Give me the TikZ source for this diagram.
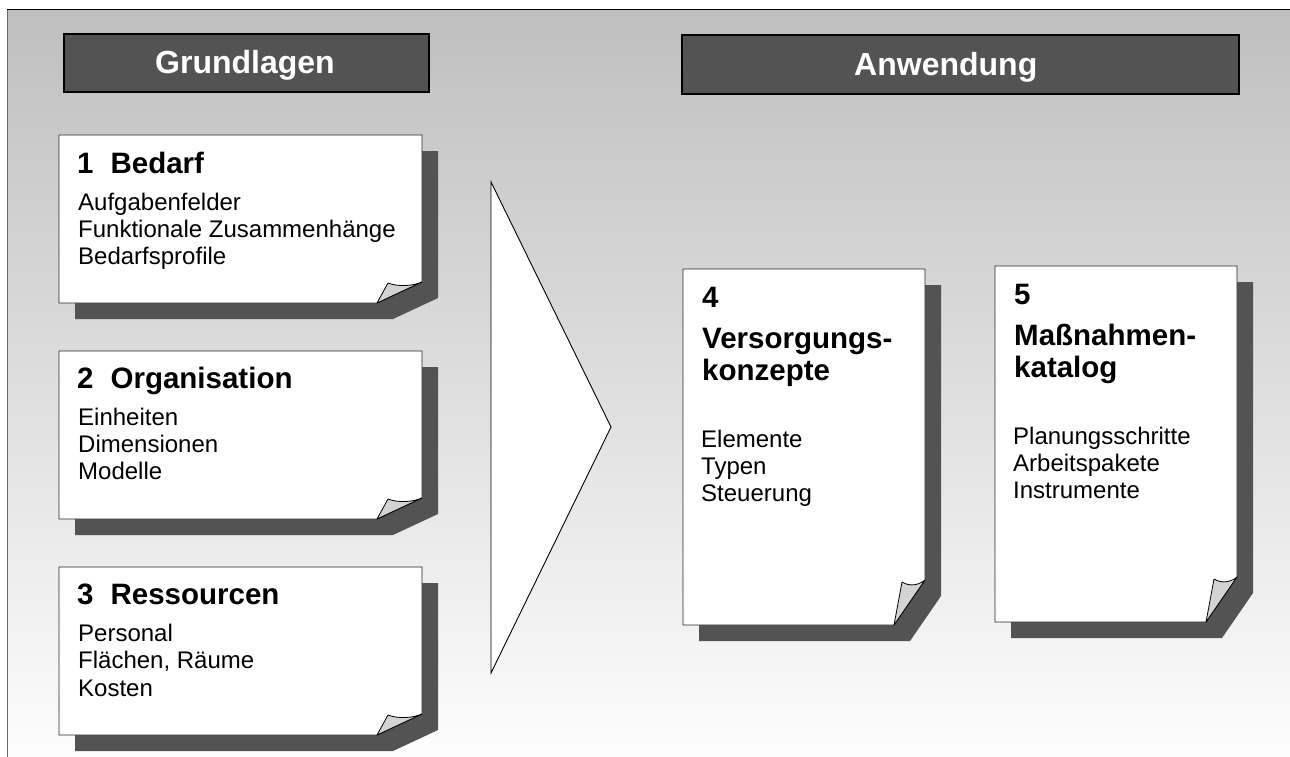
\documentclass[tikz,border=0pt]{standalone}
\usepackage{fontspec}
\setmainfont{Liberation Sans}
\definecolor{bgtop}{HTML}{BFBFBF}
\definecolor{bgbot}{HTML}{FDFDFD}
\definecolor{darkfill}{HTML}{535353}
\definecolor{curlfill}{HTML}{D3D3D3}
\definecolor{framegray}{HTML}{6A6A6A}
\newcommand\mkpageL[4]{% L T R B
  \fill[shadowfill] ({#1+16},{#2+16}) -- ({#3+16},{#2+16}) -- ({#3+16},{#4-5}) -- ({#3-29},{#4+16}) -- ({#1+16},{#4+16}) -- cycle;
  \filldraw[paper] (#1,#2) -- (#3,#2) -- (#3,{#4-21}) -- ({#3-45},#4) -- (#1,#4) -- cycle;
  \filldraw[curl] ({#3-45},#4) -- ({#3-34},{#4-20}) .. controls ({#3-24},{#4-16}) and ({#3-9},{#4-17}) .. (#3,{#4-21}) -- cycle;
}
\newcommand\mkpageR[4]{% L T R B
  \fill[shadowfill] ({#1+16},{#2+16}) -- ({#3+16},{#2+16}) -- ({#3+16},{#4-29}) -- ({#3-15},{#4+16}) -- ({#1+16},{#4+16}) -- cycle;
  \filldraw[paper] (#1,#2) -- (#3,#2) -- (#3,{#4-45}) -- ({#3-31},#4) -- (#1,#4) -- cycle;
  \filldraw[curl] ({#3-31},#4) -- ({#3-23},{#4-43}) .. controls ({#3-15},{#4-38}) and ({#3-6},{#4-40}) .. (#3,{#4-45}) -- cycle;
}
\begin{document}
\begin{tikzpicture}[x=1pt,y=-1pt,
  shadowfill/.style={fill=darkfill},
  paper/.style={fill=white, draw=black!85, line width=0.9pt, line join=miter},
  curl/.style={fill=curlfill, draw=black, line width=0.8pt, line join=round},
  header/.style={draw=black, line width=2pt, fill=darkfill, inner sep=0pt, anchor=north west},
  headtext/.style={text=white, font=\fontsize{32}{38}\selectfont\bfseries, anchor=base west, inner sep=0pt},
  title/.style={font=\fontsize{29.5}{34}\selectfont\bfseries, anchor=base west, inner sep=0pt},
  body/.style={font=\fontsize{24}{28}\selectfont, anchor=base west, inner sep=0pt}]
\useasboundingbox (0,0) rectangle (1290,757);
% background
\shade[top color=bgtop, bottom color=bgbot] (7,10) rectangle (1290,757);
\draw[framegray, line width=1pt] (7,757) -- (7,10);
\draw[black, line width=1pt] (7,10) -- (1290,10);
% headers
\node[header, minimum width=365pt, minimum height=58pt] (hg) at (63,33) {};
\node[headtext] (hgt) at (155,74) {Grundlagen};
\node[header, minimum width=557pt, minimum height=59pt] (ha) at (681,34) {};
\node[headtext] (hat) at (854,76) {Anwendung};
% big arrow
\draw[fill=white, draw=black, line width=0.9pt, line join=miter] (491,182) -- (611,427) -- (491,673) -- cycle;
% left pages
\mkpageL{59}{135}{422}{303}
\mkpageL{59}{351}{422}{519}
\mkpageL{59}{567}{422}{735}
% right pages
\mkpageR{683}{269}{925}{625}
\mkpageR{995}{266}{1237}{622}
% texts box 1
\node[title] (t1) at (77,173) {1\hspace{17pt}Bedarf};
\node[body] (t1a) at (78,210) {Aufgabenfelder};
\node[body] (t1b) at (78,237) {Funktionale Zusammenhänge};
\node[body] (t1c) at (78,264) {Bedarfsprofile};
% box 2
\node[title] (t2) at (77,388) {2\hspace{17pt}Organisation};
\node[body] (t2a) at (78,425) {Einheiten};
\node[body] (t2b) at (78,452) {Dimensionen};
\node[body] (t2c) at (78,479) {Modelle};
% box 3
\node[title] (t3) at (77,604) {3\hspace{17pt}Ressourcen};
\node[body] (t3a) at (78,641) {Personal};
\node[body] (t3b) at (78,668) {Flächen, Räume};
\node[body] (t3c) at (78,696) {Kosten};
% box 4
\node[title] (t4) at (702,307) {4};
\node[title] (t4x) at (702,348) {Versorgungs-};
\node[title] (t4y) at (702,380) {konzepte};
\node[body] (t4a) at (701,447) {Elemente};
\node[body] (t4b) at (701,474) {Typen};
\node[body] (t4c) at (701,501) {Steuerung};
% box 5
\node[title] (t5) at (1014,304) {5};
\node[title] (t5x) at (1014,345) {Maßnahmen-};
\node[title] (t5y) at (1014,377) {katalog};
\node[body] (t5a) at (1013,444) {Planungsschritte};
\node[body] (t5b) at (1013,471) {Arbeitspakete};
\node[body] (t5c) at (1013,498) {Instrumente};
\end{tikzpicture}
\end{document}
